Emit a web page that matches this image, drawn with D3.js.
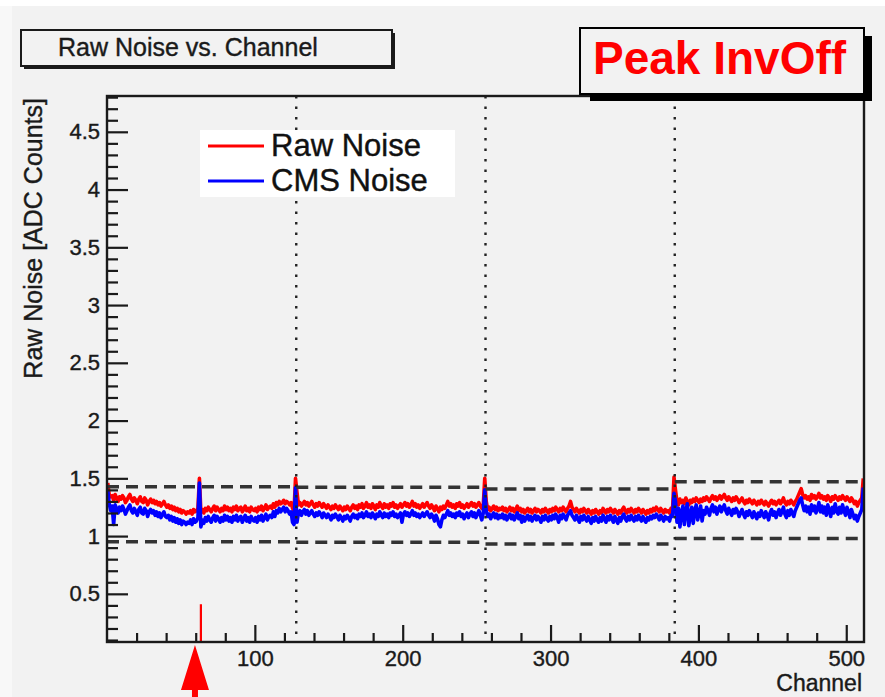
<!DOCTYPE html>
<html>
<head>
<meta charset="utf-8">
<script src="https://cdn.jsdelivr.net/npm/d3@7"></script>
<style>
  html, body { margin: 0; padding: 0; background: #f2f2f2; }
  svg { display: block; font-family: "Liberation Sans", Arial, Helvetica, sans-serif; }
</style>
</head>
<body>
<svg id="chart" width="885" height="697"></svg>
<script>
// ---------------- DATA ----------------
const chartTitle = "Raw Noise vs. Channel";
const tagText = "Peak InvOff";
const xLabel = "Channel";
const yLabel = "Raw Noise [ADC Counts]";
const seriesNames = ["Raw Noise", "CMS Noise"];
const xTicksMajor = [100, 200, 300, 400, 500];
const yTicksMajor = [0.5, 1, 1.5, 2, 2.5, 3, 3.5, 4, 4.5];
const apvBoundaries = [128, 256, 384];
const apvStart = [0, 128, 256, 384];
const apvEnd = [128, 256, 384, 512];
const upperCut = [1.427, 1.422, 1.407, 1.47];
const lowerCut = [0.951, 0.946, 0.931, 0.98];
const flaggedChannels = [64];
const flaggedValues = [0.41];
const arrowChannel = 60;

// Raw noise, channels 1-128
const rawApv1 = [
1.46,1.36,1.34,1.35,1.31,1.36,1.33,1.30,1.34,1.32,
1.35,1.33,1.29,1.31,1.34,1.36,1.32,1.30,1.33,1.31,
1.28,1.32,1.34,1.30,1.29,1.33,1.31,1.27,1.30,1.32,
1.29,1.31,1.28,1.30,1.27,1.29,1.26,1.28,1.30,1.27,
1.25,1.27,1.24,1.26,1.23,1.25,1.22,1.24,1.21,1.23,
1.20,1.22,1.21,1.19,1.21,1.20,1.22,1.19,1.23,1.21,
1.22,1.24,1.50,1.21,1.23,1.20,1.24,1.22,1.25,1.23,
1.21,1.24,1.26,1.22,1.25,1.23,1.21,1.24,1.22,1.26,
1.23,1.25,1.22,1.24,1.21,1.25,1.23,1.26,1.22,1.24,
1.25,1.21,1.23,1.26,1.22,1.24,1.21,1.25,1.23,1.22,
1.24,1.21,1.25,1.23,1.26,1.22,1.24,1.27,1.23,1.25,
1.26,1.24,1.28,1.25,1.29,1.27,1.30,1.28,1.29,1.31,
1.28,1.30,1.29,1.27,1.29,1.24,1.22,1.50];
// CMS noise, channels 1-128
const cmsApv1 = [
1.40,1.28,1.22,1.26,1.10,1.27,1.24,1.20,1.25,1.22,
1.26,1.23,1.19,1.22,1.25,1.27,1.22,1.20,1.24,1.21,
1.18,1.23,1.25,1.20,1.19,1.24,1.22,1.17,1.21,1.23,
1.20,1.22,1.18,1.21,1.17,1.20,1.16,1.19,1.21,1.17,
1.16,1.18,1.14,1.17,1.13,1.16,1.12,1.15,1.11,1.14,
1.10,1.13,1.12,1.10,1.12,1.11,1.14,1.10,1.15,1.12,
1.13,1.16,1.46,1.08,1.14,1.11,1.16,1.13,1.17,1.14,
1.12,1.16,1.18,1.13,1.17,1.15,1.12,1.16,1.13,1.18,
1.14,1.17,1.13,1.16,1.12,1.17,1.14,1.18,1.13,1.16,
1.17,1.12,1.15,1.18,1.13,1.16,1.12,1.17,1.14,1.13,
1.16,1.12,1.17,1.14,1.18,1.13,1.16,1.19,1.14,1.17,
1.18,1.16,1.21,1.17,1.22,1.20,1.24,1.21,1.23,1.25,
1.21,1.24,1.22,1.19,1.21,1.12,1.10,1.42];
// Raw noise, channels 129-256
const rawApv2 = [
1.38,1.27,1.29,1.26,1.28,1.30,1.27,1.29,1.26,1.28,
1.30,1.27,1.25,1.28,1.26,1.29,1.27,1.25,1.28,1.26,
1.24,1.27,1.25,1.23,1.26,1.24,1.27,1.25,1.23,1.26,
1.24,1.22,1.25,1.23,1.26,1.24,1.22,1.25,1.27,1.24,
1.26,1.23,1.27,1.25,1.28,1.24,1.26,1.29,1.25,1.27,
1.24,1.28,1.26,1.23,1.27,1.25,1.29,1.26,1.24,1.28,
1.25,1.27,1.24,1.28,1.26,1.29,1.25,1.27,1.24,1.26,
1.28,1.25,1.27,1.29,1.26,1.28,1.25,1.27,1.30,1.26,
1.28,1.25,1.27,1.24,1.26,1.28,1.25,1.27,1.29,1.26,
1.24,1.27,1.25,1.22,1.26,1.24,1.21,1.25,1.23,1.26,
1.24,1.27,1.30,1.26,1.28,1.25,1.27,1.24,1.28,1.26,
1.29,1.25,1.27,1.24,1.26,1.28,1.25,1.27,1.29,1.26,
1.28,1.25,1.27,1.29,1.26,1.24,1.27,1.50];
// CMS noise, channels 129-256
const cmsApv2 = [
1.12,1.20,1.22,1.18,1.21,1.23,1.19,1.22,1.18,1.20,
1.22,1.19,1.17,1.20,1.18,1.21,1.19,1.16,1.20,1.18,
1.16,1.19,1.17,1.14,1.18,1.16,1.19,1.17,1.14,1.18,
1.16,1.13,1.17,1.15,1.18,1.16,1.13,1.17,1.19,1.16,
1.18,1.15,1.19,1.17,1.20,1.16,1.18,1.21,1.17,1.19,
1.16,1.20,1.18,1.15,1.19,1.17,1.21,1.18,1.16,1.20,
1.17,1.19,1.16,1.20,1.18,1.21,1.17,1.19,1.16,1.18,
1.20,1.12,1.19,1.21,1.18,1.20,1.17,1.19,1.22,1.18,
1.20,1.17,1.19,1.16,1.18,1.20,1.17,1.19,1.21,1.18,
1.16,1.19,1.17,1.13,1.18,1.15,1.10,1.08,1.14,1.18,
1.16,1.19,1.22,1.18,1.20,1.17,1.19,1.16,1.20,1.18,
1.21,1.17,1.19,1.15,1.18,1.20,1.16,1.19,1.21,1.17,
1.20,1.16,1.19,1.22,1.18,1.14,1.20,1.40];
// Raw noise, channels 257-384
const rawApv3 = [
1.30,1.23,1.25,1.22,1.24,1.26,1.23,1.25,1.22,1.24,
1.23,1.25,1.22,1.24,1.21,1.23,1.25,1.22,1.24,1.21,
1.23,1.26,1.22,1.24,1.21,1.23,1.20,1.22,1.24,1.21,
1.23,1.20,1.22,1.24,1.21,1.23,1.22,1.20,1.23,1.21,
1.24,1.22,1.20,1.23,1.21,1.24,1.22,1.25,1.23,1.21,
1.24,1.22,1.25,1.23,1.21,1.24,1.26,1.30,1.25,1.23,
1.21,1.24,1.22,1.20,1.23,1.21,1.24,1.22,1.20,1.23,
1.21,1.19,1.22,1.20,1.23,1.21,1.19,1.22,1.20,1.24,
1.22,1.20,1.23,1.21,1.24,1.22,1.20,1.23,1.21,1.19,
1.22,1.20,1.23,1.25,1.22,1.20,1.23,1.21,1.24,1.22,
1.20,1.23,1.21,1.24,1.22,1.20,1.23,1.21,1.19,1.22,
1.20,1.23,1.21,1.24,1.22,1.25,1.23,1.21,1.24,1.22,
1.20,1.23,1.21,1.22,1.20,1.24,1.23,1.51];
// CMS noise, channels 257-384
const cmsApv3 = [
1.22,1.17,1.19,1.15,1.18,1.20,1.16,1.19,1.15,1.18,
1.16,1.19,1.15,1.18,1.14,1.17,1.19,1.15,1.18,1.14,
1.17,1.20,1.15,1.18,1.12,1.17,1.13,1.16,1.18,1.14,
1.17,1.13,1.16,1.18,1.14,1.17,1.15,1.12,1.17,1.14,
1.18,1.15,1.13,1.17,1.14,1.18,1.15,1.19,1.16,1.12,
1.18,1.15,1.19,1.17,1.14,1.18,1.20,1.22,1.18,1.16,
1.14,1.18,1.15,1.12,1.17,1.14,1.18,1.15,1.13,1.17,
1.14,1.11,1.16,1.13,1.17,1.14,1.12,1.16,1.13,1.18,
1.15,1.12,1.17,1.14,1.18,1.15,1.12,1.17,1.14,1.11,
1.16,1.13,1.17,1.19,1.15,1.13,1.17,1.14,1.18,1.15,
1.13,1.17,1.14,1.18,1.15,1.13,1.17,1.14,1.12,1.16,
1.14,1.17,1.15,1.18,1.16,1.19,1.17,1.14,1.18,1.16,
1.13,1.17,1.15,1.16,1.13,1.18,1.17,1.37];
// Raw noise, channels 385-512
const rawApv4 = [
1.40,1.30,1.27,1.32,1.29,1.31,1.28,1.33,1.30,1.27,
1.31,1.29,1.32,1.30,1.33,1.31,1.29,1.32,1.30,1.33,
1.31,1.34,1.32,1.30,1.33,1.35,1.32,1.34,1.31,1.33,
1.35,1.32,1.34,1.36,1.33,1.31,1.34,1.32,1.30,1.33,
1.31,1.34,1.32,1.29,1.31,1.33,1.30,1.28,1.31,1.29,
1.32,1.30,1.28,1.31,1.29,1.27,1.30,1.28,1.31,1.29,
1.27,1.30,1.28,1.26,1.29,1.31,1.28,1.30,1.27,1.29,
1.31,1.28,1.30,1.33,1.29,1.27,1.30,1.28,1.31,1.29,
1.27,1.30,1.32,1.35,1.38,1.41,1.36,1.33,1.35,1.32,
1.34,1.31,1.36,1.33,1.35,1.32,1.34,1.37,1.33,1.35,
1.32,1.34,1.31,1.35,1.33,1.30,1.34,1.32,1.35,1.33,
1.31,1.34,1.32,1.35,1.33,1.31,1.34,1.32,1.30,1.33,
1.31,1.28,1.30,1.26,1.29,1.31,1.33,1.50];
// CMS noise, channels 385-512
const cmsApv4 = [
1.30,1.12,1.24,1.08,1.20,1.26,1.10,1.22,1.28,1.09,
1.18,1.25,1.11,1.22,1.27,1.14,1.20,1.26,1.13,1.22,
1.19,1.25,1.22,1.18,1.24,1.27,1.21,1.25,1.19,1.23,
1.26,1.21,1.24,1.27,1.22,1.19,1.24,1.21,1.18,1.23,
1.20,1.24,1.21,1.17,1.20,1.23,1.19,1.16,1.21,1.18,
1.22,1.19,1.16,1.21,1.18,1.15,1.20,1.17,1.22,1.19,
1.16,1.21,1.18,1.14,1.20,1.23,1.18,1.21,1.16,1.20,
1.23,1.18,1.21,1.25,1.19,1.16,1.22,1.18,1.23,1.20,
1.17,1.22,1.25,1.28,1.31,1.33,1.27,1.22,1.26,1.21,
1.25,1.19,1.27,1.22,1.26,1.20,1.24,1.29,1.21,1.26,
1.20,1.25,1.18,1.27,1.22,1.17,1.25,1.20,1.28,1.22,
1.19,1.25,1.20,1.27,1.22,1.18,1.25,1.21,1.16,1.23,
1.19,1.15,1.18,1.13,1.17,1.20,1.23,1.42];

// ---------------- DRAWING ----------------
const rawNoise = rawApv1.concat(rawApv2, rawApv3, rawApv4);
const cmsNoise = cmsApv1.concat(cmsApv2, cmsApv3, cmsApv4);

const svg = d3.select("#chart");
const W = 885, H = 697;
const plot = { left: 107, right: 864, top: 96, bottom: 642 };

const x = d3.scaleLinear().domain([0, 512]).range([plot.left, plot.right]);
const y = d3.scaleLinear().domain([0.083, 4.81]).range([plot.bottom, plot.top]);

// background
svg.append("rect").attr("x", 0).attr("y", 0).attr("width", W).attr("height", H).attr("fill", "#f2f2f2");
svg.append("rect").attr("x", 0).attr("y", 0).attr("width", W).attr("height", 6).attr("fill", "#ffffff");
svg.append("rect").attr("x", 0).attr("y", 6).attr("width", 12).attr("height", H - 6).attr("fill", "#f8f8f8");

const defs = svg.append("defs");
defs.append("clipPath").attr("id", "plotclip").append("rect")
  .attr("x", plot.left).attr("y", plot.top)
  .attr("width", plot.right - plot.left).attr("height", plot.bottom - plot.top);

const g = svg.append("g").attr("clip-path", "url(#plotclip)");

// data lines
const line = d3.line()
  .x((d, i) => x(i + 0.5))
  .y(d => y(d));

g.append("path").datum(rawNoise)
  .attr("d", line).attr("fill", "none")
  .attr("stroke", "#ff0000").attr("stroke-width", 3.6).attr("stroke-linejoin", "round");
g.append("path").datum(cmsNoise)
  .attr("d", line).attr("fill", "none")
  .attr("stroke", "#0000ff").attr("stroke-width", 3.6).attr("stroke-linejoin", "round");

// flagged channel marker
g.selectAll("line.flag").data(flaggedChannels).enter().append("line")
  .attr("class", "flag")
  .attr("x1", d => x(d - 0.5)).attr("x2", d => x(d - 0.5))
  .attr("y1", y(y.domain()[0])).attr("y2", (d, i) => y(flaggedValues[i]))
  .attr("stroke", "#ff0000").attr("stroke-width", 2.2);

// dashed per-APV cut lines
apvStart.forEach((s, i) => {
  [upperCut[i], lowerCut[i]].forEach(v => {
    g.append("line")
      .attr("x1", x(s)).attr("x2", x(apvEnd[i]))
      .attr("y1", y(v)).attr("y2", y(v))
      .attr("stroke", "#333").attr("stroke-width", 3.5)
      .attr("stroke-dasharray", "12,7");
  });
});

// dotted APV boundaries
g.selectAll("line.apv").data(apvBoundaries).enter().append("line")
  .attr("class", "apv")
  .attr("x1", d => x(d)).attr("x2", d => x(d))
  .attr("y1", plot.top).attr("y2", plot.bottom)
  .attr("stroke", "#222").attr("stroke-width", 2.4)
  .attr("stroke-dasharray", "2.5,8");

// legend
svg.append("rect").attr("x", 200).attr("y", 130).attr("width", 255).attr("height", 67).attr("fill", "#ffffff");
const legColors = ["#ff0000", "#0000ff"];
const legY = [146, 181];
seriesNames.forEach((name, i) => {
  svg.append("line").attr("x1", 208).attr("x2", 264).attr("y1", legY[i]).attr("y2", legY[i])
    .attr("stroke", legColors[i]).attr("stroke-width", 3);
  svg.append("text").attr("x", 271).attr("y", legY[i] + 10)
    .attr("font-size", 31).attr("fill", "#111")
    .attr("stroke", "#111").attr("stroke-width", 0.4).text(name);
});

// axes
const yMinor = d3.range(0.1, 4.81, 0.1).map(v => +v.toFixed(1)).filter(v => Math.abs(v * 2 - Math.round(v * 2)) > 1e-6);
const xMinor = d3.range(20, 512, 20).filter(v => v % 100 !== 0);

const yAxisMajor = d3.axisLeft(y).tickValues(yTicksMajor).tickSizeInner(-21).tickSizeOuter(0).tickPadding(7)
  .tickFormat(d => String(d));
const yAxisMinor = d3.axisLeft(y).tickValues(yMinor).tickSizeInner(-11).tickSizeOuter(0).tickFormat("");
const xAxisMajor = d3.axisBottom(x).tickValues(xTicksMajor).tickSizeInner(-17).tickSizeOuter(0).tickPadding(8)
  .tickFormat(d => String(d));
const xAxisMinor = d3.axisBottom(x).tickValues(xMinor).tickSizeInner(-9).tickSizeOuter(0).tickFormat("");

function styleAxis(sel) {
  sel.select(".domain").remove();
  sel.selectAll(".tick line").attr("stroke", "#1a1a1a").attr("stroke-width", 2.2);
  sel.selectAll(".tick text").attr("fill", "#1a1a1a").attr("font-size", 22)
    .attr("stroke", "#1a1a1a").attr("stroke-width", 0.4)
    .attr("font-family", "'Liberation Sans', Arial, sans-serif");
}
svg.append("g").attr("transform", `translate(${plot.left},0)`).call(yAxisMinor).call(styleAxis);
svg.append("g").attr("transform", `translate(${plot.left},0)`).call(yAxisMajor).call(styleAxis);
svg.append("g").attr("transform", `translate(0,${plot.bottom})`).call(xAxisMinor).call(styleAxis);
svg.append("g").attr("transform", `translate(0,${plot.bottom})`).call(xAxisMajor).call(styleAxis);

// frame
svg.append("rect").attr("x", plot.left).attr("y", plot.top)
  .attr("width", plot.right - plot.left).attr("height", plot.bottom - plot.top)
  .attr("fill", "none").attr("stroke", "#1a1a1a").attr("stroke-width", 2.4);

// axis titles
svg.append("text").attr("x", 862).attr("y", 691).attr("text-anchor", "end")
  .attr("font-size", 23).attr("fill", "#1a1a1a")
  .attr("stroke", "#1a1a1a").attr("stroke-width", 0.4).text(xLabel);
svg.append("text").attr("transform", "translate(42,98) rotate(-90)").attr("text-anchor", "end")
  .attr("font-size", 25).attr("fill", "#1a1a1a")
  .attr("stroke", "#1a1a1a").attr("stroke-width", 0.4).text(yLabel);

// title box
svg.append("rect").attr("x", 24).attr("y", 33).attr("width", 371).attr("height", 36).attr("fill", "#1a1a1a");
svg.append("rect").attr("x", 21).attr("y", 30).attr("width", 371).attr("height", 36)
  .attr("fill", "#f2f2f2").attr("stroke", "#1a1a1a").attr("stroke-width", 2);
svg.append("text").attr("x", 58).attr("y", 56).attr("font-size", 25).attr("fill", "#1a1a1a")
  .attr("stroke", "#1a1a1a").attr("stroke-width", 0.4).text(chartTitle);

// tag box
svg.append("rect").attr("x", 590).attr("y", 36).attr("width", 282).attr("height", 65).attr("fill", "#000");
svg.append("rect").attr("x", 580).attr("y", 28).attr("width", 284).attr("height", 66)
  .attr("fill", "#f2f2f2").attr("stroke", "#000").attr("stroke-width", 2);
svg.append("text").attr("x", 593).attr("y", 74).attr("font-size", 46).attr("font-weight", "bold")
  .attr("fill", "#ff0000").text(tagText);

// arrow annotation under the flagged region
const ax = x(arrowChannel - 0.5);
const arrowPath = d3.path();
arrowPath.moveTo(ax, 645);
arrowPath.lineTo(ax + 14, 690);
arrowPath.lineTo(ax + 3, 690);
arrowPath.lineTo(ax + 3, 697);
arrowPath.lineTo(ax - 3, 697);
arrowPath.lineTo(ax - 3, 690);
arrowPath.lineTo(ax - 14, 690);
arrowPath.closePath();
svg.append("path").attr("d", arrowPath.toString()).attr("fill", "#ff0000");
</script>
</body>
</html>
